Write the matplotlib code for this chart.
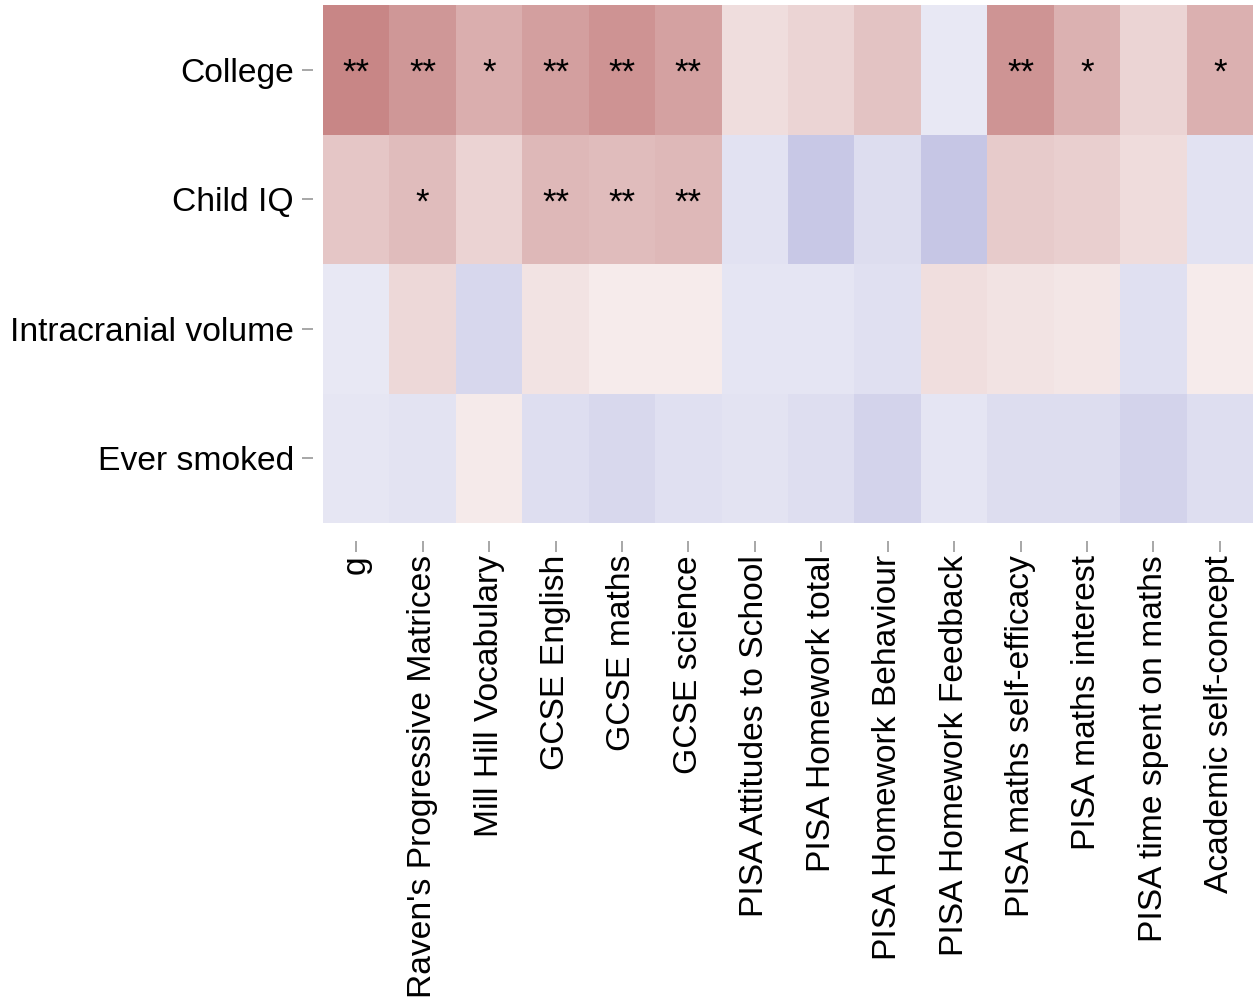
import numpy as np
import matplotlib
matplotlib.use("Agg")
import matplotlib.pyplot as plt
from matplotlib.colors import LinearSegmentedColormap

# Outcomes (columns) and predictors (rows)
outcomes = [
    "g", "Raven's Progressive Matrices", "Mill Hill Vocabulary",
    "GCSE English", "GCSE maths", "GCSE science",
    "PISA Attitudes to School", "PISA Homework total",
    "PISA Homework Behaviour", "PISA Homework Feedback",
    "PISA maths self-efficacy", "PISA maths interest",
    "PISA time spent on maths", "Academic self-concept",
]
predictors = ["College", "Child IQ", "Intracranial volume", "Ever smoked"]

# standardised effect (colour scale -1..1)
college = [0.95, 0.82, 0.64, 0.75, 0.85, 0.74, 0.27, 0.34, 0.47, -0.18, 0.84, 0.61, 0.34, 0.62]
child_iq = [0.45, 0.53, 0.35, 0.56, 0.53, 0.56, -0.23, -0.43, -0.27, -0.45, 0.41, 0.38, 0.28, -0.23]
icv = [-0.18, 0.31, -0.32, 0.22, 0.16, 0.16, -0.21, -0.21, -0.25, 0.26, 0.22, 0.20, -0.25, 0.16]
smoked = [-0.20, -0.22, 0.17, -0.26, -0.31, -0.25, -0.22, -0.26, -0.35, -0.21, -0.27, -0.27, -0.35, -0.26]

# significance stars
stars_college = ["**", "**", "*", "**", "**", "**", "", "", "", "", "**", "*", "", "*"]
stars_iq = ["", "*", "", "**", "**", "**", "", "", "", "", "", "", "", ""]
stars_icv = [""] * 14
stars_smoked = [""] * 14

values = np.array([college, child_iq, icv, smoked])
stars = [stars_college, stars_iq, stars_icv, stars_smoked]

cmap = LinearSegmentedColormap.from_list("rb", ["#8080C5", "#FFFFFF", "#C58080"])

plt.rcParams['font.family'] = ['Liberation Sans', 'DejaVu Sans']

fig = plt.figure(figsize=(12.53, 10.02), dpi=100)
ax = fig.add_axes([323 / 1253, 1 - 523 / 1002, 930 / 1253, 518 / 1002])

ax.pcolormesh(np.arange(len(outcomes) + 1), np.arange(len(predictors) + 1), values,
              cmap=cmap, vmin=-1, vmax=1)
ax.set_xlim(0, len(outcomes))
ax.set_ylim(len(predictors), 0)

for i, row in enumerate(stars):
    for j, s in enumerate(row):
        if s:
            ax.text(j + 0.5, i + 0.6, s, ha='center', va='baseline', fontsize=25)

# move spines (and ticks) out before setting the tick labels
for s in ax.spines.values():
    s.set_visible(False)
ax.spines['left'].set_position(('outward', 7))
ax.spines['bottom'].set_position(('outward', 13))

ax.set_xticks(np.arange(len(outcomes)) + 0.5)
ax.set_xticklabels(outcomes, rotation=90, fontsize=24.2)
ax.set_yticks(np.arange(len(predictors)) + 0.5)
ax.set_yticklabels(predictors, fontsize=24.2)
ax.tick_params(axis='both', length=8, width=1.3, color='#A0A0A0')
ax.tick_params(axis='y', pad=6)
ax.tick_params(axis='x', pad=2)

fig.savefig("out.png", dpi=100)
